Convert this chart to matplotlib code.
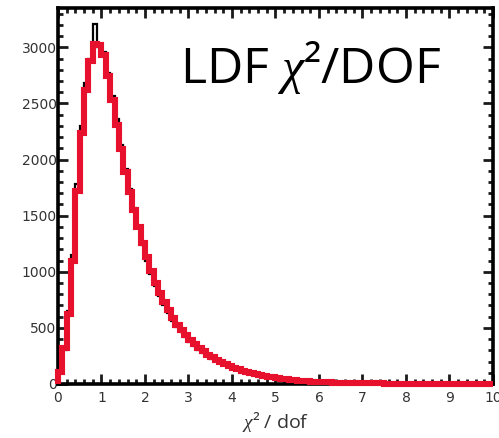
import numpy as np
import matplotlib
matplotlib.use("Agg")
from matplotlib import pyplot as plt
from matplotlib.ticker import MultipleLocator

# chi2/dof of the LDF fit, 0.1 wide bins from 0 to 10
bin_edges = np.linspace(0.0, 10.0, 101)

fit_counts = [
    110, 320, 620, 1100, 1720, 2240, 2620, 2880, 3030, 3020,
    2930, 2740, 2530, 2310, 2090, 1890, 1710, 1550, 1400, 1260,
    1130, 1010, 900, 810, 730, 660, 590, 530, 480, 435,
    395, 355, 320, 290, 262, 237, 215, 195, 176, 160,
    145, 130, 118, 106, 96, 87, 79, 71, 64, 58,
    52, 47, 42, 38, 34, 31, 28, 25, 22, 20,
    18, 16, 14, 13, 12, 11, 10, 9, 8, 7,
    7, 6, 6, 5, 5, 4, 4, 4, 3, 3,
    3, 3, 2, 2, 2, 2, 2, 1, 1, 1,
    1, 1, 1, 1, 1, 1, 1, 1, 0, 0,
]

data_counts = [
    100, 300, 650, 1150, 1780, 2300, 2680, 2900, 3210, 3000,
    2960, 2770, 2570, 2360, 2130, 1920, 1740, 1570, 1390, 1240,
    1100, 980, 870, 780, 700, 635, 565, 510, 460, 415,
    375, 340, 305, 275, 250, 225, 205, 185, 168, 152,
    138, 124, 112, 101, 92, 83, 75, 68, 61, 55,
    50, 45, 40, 36, 32, 29, 26, 23, 21, 19,
    17, 15, 13, 12, 11, 10, 9, 8, 7, 7,
    6, 6, 5, 5, 4, 4, 4, 3, 3, 3,
    3, 2, 2, 2, 2, 2, 1, 1, 1, 1,
    1, 1, 1, 1, 1, 1, 1, 0, 0, 0,
]

plt.rcParams["font.family"] = ["DejaVu Sans"]
plt.rcParams["mathtext.fontset"] = "custom"
plt.rcParams["mathtext.rm"] = "Open Sans"
plt.rcParams["mathtext.it"] = "Liberation Serif:italic"

fig = plt.figure(figsize=(4.99, 4.38), dpi=100)
ax = fig.add_axes([0.1162, 0.1233, 0.8717, 0.8584])

ax.stairs(data_counts, bin_edges, baseline=0, color="black", lw=1.6, zorder=2)
ax.stairs(fit_counts, bin_edges, baseline=0, color="#e8112d", lw=4.4,
          zorder=3, clip_on=False)

ax.set_xlim(0, 10)
ax.set_ylim(0, 3350)
ax.xaxis.set_major_locator(MultipleLocator(1))
ax.xaxis.set_minor_locator(MultipleLocator(0.2))
ax.yaxis.set_major_locator(MultipleLocator(500))
ax.yaxis.set_minor_locator(MultipleLocator(100))

for side in ax.spines.values():
    side.set_linewidth(2.6)
ax.tick_params(which="both", direction="in", top=True, right=True,
               width=2.0, colors="#1a1a1a", labelcolor="#333333", labelsize=10)
ax.tick_params(which="major", length=7)
ax.tick_params(which="minor", length=3.5)
ax.tick_params(axis="y", pad=1)
ax.tick_params(axis="x", pad=5)

ax.set_xlabel(r"$\chi$² / dof", fontsize=14, color="#333333",
              family="Open Sans", labelpad=4)

ax.text(0.2805, 0.80, r"LDF $\chi$²/DOF", transform=ax.transAxes,
        fontsize=36, color="black", family="Open Sans")

fig.savefig("out.png", dpi=100)
